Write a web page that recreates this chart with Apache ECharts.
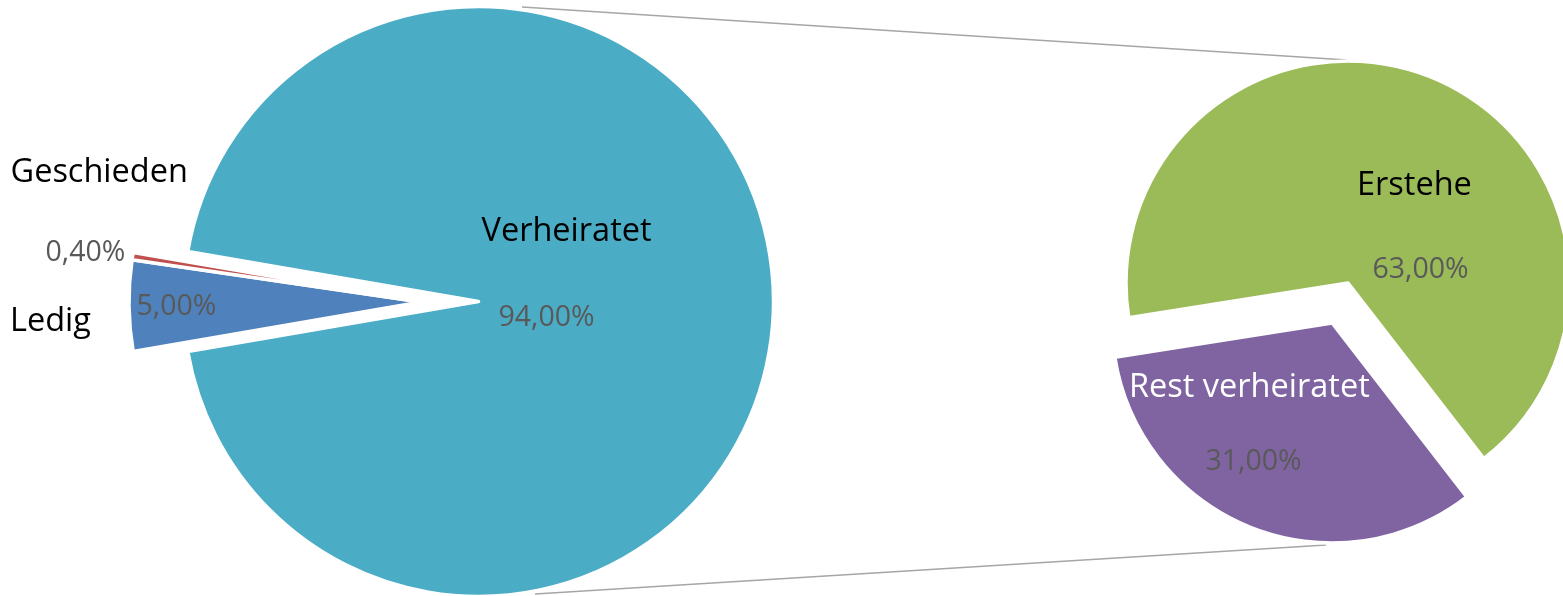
<!DOCTYPE html>
<html>
<head>
<meta charset="utf-8">
<script src="https://cdn.jsdelivr.net/npm/echarts@6/dist/echarts.min.js"></script>
<style>
  html, body { margin: 0; padding: 0; background: #fff; }
  #chart { width: 1563px; height: 596px; }
</style>
</head>
<body>
<div id="chart"></div>
<script>
// Familienstand - Kreis aus Kreis
const leftCategories = ['Verheiratet', 'Ledig', 'Geschieden'];
const leftValues = [94, 5, 0.4];
const rightCategories = ['Erstehe', 'Rest verheiratet'];
const rightValues = [63, 31];

const leftColors = ['#4BACC6', '#4F81BD', '#C0504D'];
const rightColors = ['#9BBB59', '#8064A2'];

const chart = echarts.init(document.getElementById('chart'));

// 94,00%
const fmt = v => v.toFixed(2).replace('.', ',') + '%';
const leftTotal = leftValues.reduce((a, b) => a + b, 0);
// Verheiratet liegt mittig nach rechts (0°)
const leftStart = leftValues[0] / leftTotal * 180;

// zweiter Kreis: Rest verheiratet wird entlang seiner Winkelhalbierenden herausgezogen
const rightCenter = [1348, 283];
const rightStart = 189;
const rightOffset = 43;
const rightTotal = rightValues.reduce((a, b) => a + b, 0);
const restMid = (rightStart - (rightValues[0] + rightValues[1] / 2) / rightTotal * 360) * Math.PI / 180;
const restCenter = [
  rightCenter[0] + rightOffset * Math.cos(restMid),
  rightCenter[1] - rightOffset * Math.sin(restMid)
];

const nameFont = { fontFamily: 'Open Sans', fontSize: 32.5, color: '#000' };
const valueFont = { fontFamily: 'Open Sans', fontSize: 28.5, color: '#595959' };

// Labelpositionen (linke Kante, vertikale Mitte)
const leftNamePos = [[481.5, 232], [10, 322], [10.5, 172.5]];
const leftValuePos = [[498.5, 318], [136.5, 307], [45.5, 253]];
const rightNamePos = [[1357, 186], [1129, 388]];
const rightValuePos = [[1372.5, 270], [1205.5, 462]];

function placeAt(pos) {
  return function (p) {
    const q = pos[p.dataIndex];
    return { x: q[0], y: q[1], align: 'left', verticalAlign: 'middle' };
  };
}

const hidden = { color: 'transparent', borderWidth: 0 };
const border = { borderColor: '#fff', borderWidth: 3.5 };

const base = {
  type: 'pie',
  silent: true,
  clockwise: true,
  animation: false,
  labelLine: { show: false },
  emphasis: { disabled: true }
};

function valueLabel() {
  return Object.assign({ show: true, position: 'inside', formatter: p => fmt(p.value) }, valueFont);
}

const option = {
  backgroundColor: '#fff',
  animation: false,
  // Verbindungslinien
  graphic: [
    {
      type: 'line', silent: true, z: 0,
      shape: { x1: 522, y1: 7, x2: 1347, y2: 60 },
      style: { stroke: '#A6A6A6', lineWidth: 1.5 }
    },
    {
      type: 'line', silent: true, z: 0,
      shape: { x1: 535, y1: 594, x2: 1326, y2: 545 },
      style: { stroke: '#A6A6A6', lineWidth: 1.5 }
    }
  ],
  series: [
    // Verheiratet (herausgezogen)
    Object.assign({}, base, {
      name: 'links gross',
      center: [478.5, 301.5],
      radius: 295,
      startAngle: leftStart,
      label: valueLabel(),
      labelLayout: placeAt(leftValuePos),
      data: leftCategories.map((n, i) => ({
        name: n,
        value: leftValues[i],
        itemStyle: i === 0 ? Object.assign({ color: leftColors[i] }, border) : hidden,
        label: { show: i === 0 }
      }))
    }),
    // Ledig, Geschieden
    Object.assign({}, base, {
      name: 'links klein',
      center: [421, 302],
      radius: 292,
      startAngle: leftStart,
      label: valueLabel(),
      labelLayout: placeAt(leftValuePos),
      data: leftCategories.map((n, i) => ({
        name: n,
        value: leftValues[i],
        itemStyle: i === 0 ? hidden : Object.assign({ color: leftColors[i] }, border),
        label: { show: i !== 0 }
      }))
    }),
    // Namen links
    Object.assign({}, base, {
      name: 'links namen',
      center: [421, 302],
      radius: 292,
      startAngle: leftStart,
      z: 5,
      label: Object.assign({ show: true, position: 'inside', formatter: '{b}' }, nameFont),
      labelLayout: placeAt(leftNamePos),
      data: leftCategories.map((n, i) => ({ name: n, value: leftValues[i], itemStyle: hidden }))
    }),
    // zweiter Kreis: Erstehe
    Object.assign({}, base, {
      name: 'rechts',
      center: rightCenter,
      radius: 222,
      startAngle: rightStart,
      label: valueLabel(),
      labelLayout: placeAt(rightValuePos),
      data: rightCategories.map((n, i) => ({
        name: n,
        value: rightValues[i],
        itemStyle: i === 0 ? Object.assign({ color: rightColors[i] }, border) : hidden,
        label: { show: i === 0 }
      }))
    }),
    // zweiter Kreis: Rest verheiratet (herausgezogen)
    Object.assign({}, base, {
      name: 'rechts rest',
      center: restCenter,
      radius: 220,
      startAngle: rightStart,
      label: valueLabel(),
      labelLayout: placeAt(rightValuePos),
      data: rightCategories.map((n, i) => ({
        name: n,
        value: rightValues[i],
        itemStyle: i === 1 ? Object.assign({ color: rightColors[i] }, border) : hidden,
        label: { show: i === 1 }
      }))
    }),
    // Namen rechts
    Object.assign({}, base, {
      name: 'rechts namen',
      center: rightCenter,
      radius: 222,
      startAngle: rightStart,
      z: 5,
      label: Object.assign({ show: true, position: 'inside', formatter: '{b}' }, nameFont),
      labelLayout: placeAt(rightNamePos),
      data: rightCategories.map((n, i) => ({
        name: n,
        value: rightValues[i],
        itemStyle: hidden,
        label: { color: i === 1 ? '#fff' : '#000' }
      }))
    })
  ]
};

chart.setOption(option);
</script>
</body>
</html>
